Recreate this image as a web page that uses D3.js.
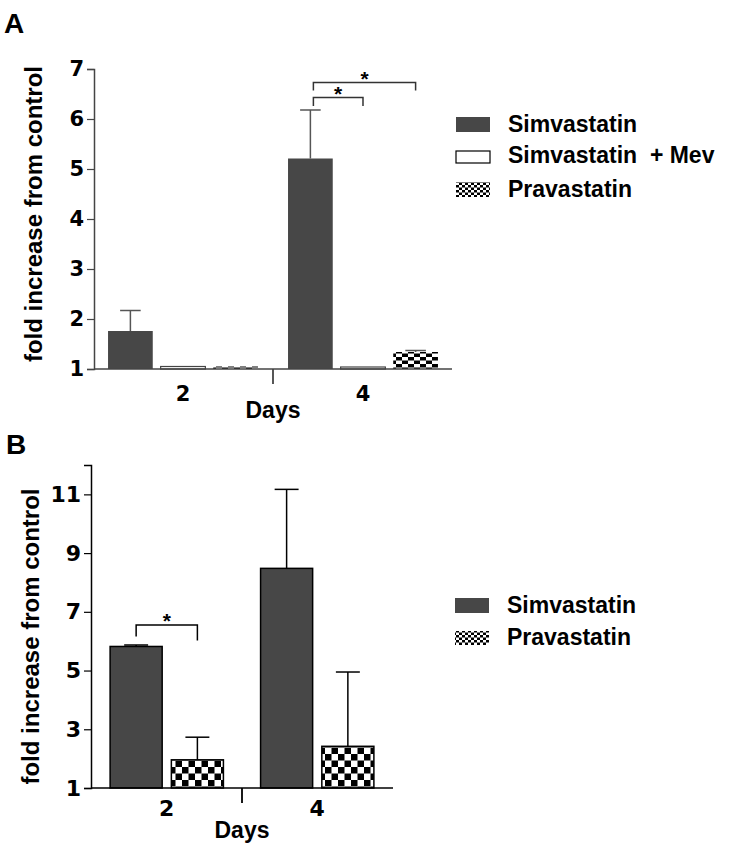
<!DOCTYPE html>
<html><head><meta charset="utf-8">
<script src="https://cdn.jsdelivr.net/npm/d3@7"></script>
<style>body{margin:0;background:#fff}svg{display:block}text{font-family:"Liberation Sans",Arial,sans-serif;font-weight:bold;fill:#000}</style>
</head><body>
<script>
// ---- Data ----
const daysA = ["2", "4"];
const seriesA = ["Simvastatin", "Simvastatin  + Mev", "Pravastatin"];
const simvA = [1.76, 5.21];
const simvErrA = [0.41, 0.97];
const mevA = [1.05, 1.04];
const mevErrA = [0, 0];
const pravA = [1.05, 1.34];
const pravErrA = [0, 0.03];
const ticksA = [1, 2, 3, 4, 5, 6, 7];

const daysB = ["2", "4"];
const seriesB = ["Simvastatin", "Pravastatin"];
const simvB = [5.82, 8.48];
const simvErrB = [0.05, 2.69];
const pravB = [1.96, 2.42];
const pravErrB = [0.77, 2.53];
const ticksB = [1, 3, 5, 7, 9, 11];

const yLabel = "fold increase from control";
const xLabel = "Days";

const W = 733, H = 850;
const TICKFONT = "'DejaVu Sans',Arial,sans-serif";
const svg = d3.select("body").append("svg").attr("width", W).attr("height", H);
const defs = svg.append("defs");
function checker(id, cw, ch) {
  const p = defs.append("pattern").attr("id", id).attr("patternUnits", "userSpaceOnUse")
    .attr("width", cw * 2).attr("height", ch * 2);
  p.append("rect").attr("width", cw * 2).attr("height", ch * 2).attr("fill", "#fff");
  p.append("rect").attr("width", cw).attr("height", ch).attr("fill", "#000");
  p.append("rect").attr("x", cw).attr("y", ch).attr("width", cw).attr("height", ch).attr("fill", "#000");
}
checker("chkA", 6, 3.5);
checker("chkB", 6.5, 6.5);
checker("chkL", 3, 2.5);

const DARK = "#474747";

function panel(cfg) {
  const g = svg.append("g");
  const y = d3.scaleLinear().domain(cfg.yDomain).range([cfg.yBottom, cfg.yTop]);
  const x0 = d3.scaleBand().domain(cfg.days).range([cfg.xLeft, cfg.xRight])
    .paddingInner(cfg.pi).paddingOuter(cfg.po);
  const x1 = d3.scaleBand().domain(cfg.series).range([0, x0.bandwidth()]).paddingInner(0.15);

  // bars
  cfg.series.forEach((s, si) => {
    const vals = cfg.values[si], errs = cfg.errs[si];
    cfg.days.forEach((d, di) => {
      const bx = x0(d) + x1(s), bw = x1.bandwidth();
      const cx = bx + bw / 2;
      if (errs[di] > 0) {
        g.append("line").attr("x1", cx).attr("x2", cx)
          .attr("y1", y(vals[di])).attr("y2", y(vals[di] + errs[di]))
          .attr("stroke", cfg.errColor).attr("stroke-width", 1.5);
        g.append("line").attr("x1", cx - bw * 0.23).attr("x2", cx + bw * 0.23)
          .attr("y1", y(vals[di] + errs[di])).attr("y2", y(vals[di] + errs[di]))
          .attr("stroke", cfg.errColor).attr("stroke-width", 1.5);
      }
      g.append("rect").attr("x", bx).attr("width", bw)
        .attr("y", y(vals[di])).attr("height", y(cfg.yDomain[0]) - y(vals[di]))
        .attr("fill", cfg.fills[si]).attr("stroke", cfg.strokes[si]).attr("stroke-width", cfg.barStroke);
    });
  });

  // y axis
  const ya = d3.axisLeft(y).tickValues(cfg.ticks).tickSize(7).tickPadding(3).tickFormat(d3.format("d"));
  const yg = g.append("g").attr("transform", `translate(${cfg.xLeft},0)`).call(ya)
    .attr("font-size", cfg.tickFs).attr("font-family", TICKFONT);
  yg.select(".domain").attr("stroke", cfg.axisColor).attr("stroke-width", 1.5);
  yg.selectAll(".tick line").attr("stroke", cfg.axisColor).attr("stroke-width", 1.2);
  yg.selectAll(".tick text").style("font-size", cfg.tickFs + "px").style("font-family", TICKFONT)
    .style("font-weight", "bold").attr("fill", "#000");

  // x axis line
  g.append("line").attr("x1", cfg.xLeft).attr("x2", cfg.xRight)
    .attr("y1", y(cfg.yDomain[0])).attr("y2", y(cfg.yDomain[0]))
    .attr("stroke", cfg.axisColor).attr("stroke-width", 1.5);
  // center separator tick
  const midX = (x0(cfg.days[0]) + x0.bandwidth() + x0(cfg.days[1])) / 2;
  g.append("line").attr("x1", midX).attr("x2", midX)
    .attr("y1", y(cfg.yDomain[0])).attr("y2", y(cfg.yDomain[0]) + 15)
    .attr("stroke", cfg.axisColor).attr("stroke-width", 1.8);
  cfg.days.forEach(d => {
    g.append("text").attr("x", x0(d) + x0.bandwidth() / 2).attr("y", y(cfg.yDomain[0]) + cfg.xTickDy)
      .attr("text-anchor", "middle").style("font-size", cfg.tickFs + "px").style("font-family", TICKFONT).text(d);
  });
  g.append("text").attr("x", midX).attr("y", y(cfg.yDomain[0]) + cfg.xLabDy)
    .attr("text-anchor", "middle").style("font-size", "23px").text(xLabel);
  // y label
  g.append("text").attr("transform", `translate(${cfg.yLabX},${(cfg.yTop + cfg.yBottom) / 2 + cfg.yLabShift}) rotate(-90)`)
    .attr("text-anchor", "middle").style("font-size", "24px").text(yLabel);
  // panel letter
  g.append("text").attr("x", cfg.letterX).attr("y", cfg.letterY).style("font-size", "28px").text(cfg.letter);

  // brackets
  cfg.brackets.forEach(b => {
    const xa = x0(cfg.days[b.day]) + x1(cfg.series[b.from]) + x1.bandwidth() / 2 + b.off;
    const xb = x0(cfg.days[b.day]) + x1(cfg.series[b.to]) + x1.bandwidth() / 2;
    g.append("path").attr("d", `M${xa},${y(b.l1)}V${y(b.h)}H${xb}V${y(b.l2)}`)
      .attr("fill", "none").attr("stroke", cfg.bracketColor).attr("stroke-width", 1.5);
    g.append("text").attr("x", (xa + xb) / 2).attr("y", y(b.h) + b.sdy)
      .attr("text-anchor", "middle").style("font-size", "21px").text("*");
  });

  // legend
  cfg.legend.forEach((L, i) => {
    g.append("rect").attr("x", cfg.legX).attr("y", L.y - L.h).attr("width", 34).attr("height", L.h)
      .attr("fill", L.fill).attr("stroke", L.stroke).attr("stroke-width", 1.2);
    g.append("text").attr("x", cfg.legX + 52).attr("y", L.y).style("font-size", "23px")
      .style("white-space", "pre").attr("xml:space", "preserve").text(cfg.series[i]);
  });
}

panel({
  letter: "A", letterX: 4, letterY: 33,
  days: daysA, series: seriesA,
  values: [simvA, mevA, pravA], errs: [simvErrA, mevErrA, pravErrA],
  fills: [DARK, "#fff", "url(#chkA)"], strokes: ["none", "#444", "none"], barStroke: 1.2,
  yDomain: [1, 7], yTop: 69, yBottom: 369, ticks: ticksA,
  xLeft: 94, xRight: 452, pi: 0.167, po: 0.078,
  axisColor: "#444", errColor: "#555", bracketColor: "#333",
  tickFs: 21, xTickDy: 32, xLabDy: 49, yLabX: 42, yLabShift: -5,
  brackets: [
    {day: 1, from: 0, to: 1, h: 6.43, l1: 6.26, l2: 6.26, off: 3, sdy: 3},
    {day: 1, from: 0, to: 2, h: 6.73, l1: 6.57, l2: 6.57, off: 3, sdy: 3}
  ],
  legX: 456,
  legend: [
    {y: 132, h: 15, fill: DARK, stroke: "none"},
    {y: 163, h: 12, fill: "#fff", stroke: "#000"},
    {y: 197, h: 15, fill: "url(#chkL)", stroke: "none"}
  ]
});

panel({
  letter: "B", letterX: 6, letterY: 454,
  days: daysB, series: seriesB,
  values: [simvB, pravB], errs: [simvErrB, pravErrB],
  fills: [DARK, "url(#chkB)"], strokes: ["#000", "#000"], barStroke: 1.5,
  yDomain: [1, 12], yTop: 465, yBottom: 788, ticks: ticksB,
  xLeft: 91, xRight: 393, pi: 0.247, po: 0.127,
  axisColor: "#000", errColor: "#000", bracketColor: "#000",
  tickFs: 22, xTickDy: 28, xLabDy: 50, yLabX: 39, yLabShift: 10,
  brackets: [
    {day: 0, from: 0, to: 1, h: 6.55, l1: 6.16, l2: 6.02, off: 0, sdy: 2.5}
  ],
  legX: 455,
  legend: [
    {y: 613, h: 15, fill: DARK, stroke: "none"},
    {y: 645, h: 14, fill: "url(#chkL)", stroke: "none"}
  ]
});
</script>
</body></html>
